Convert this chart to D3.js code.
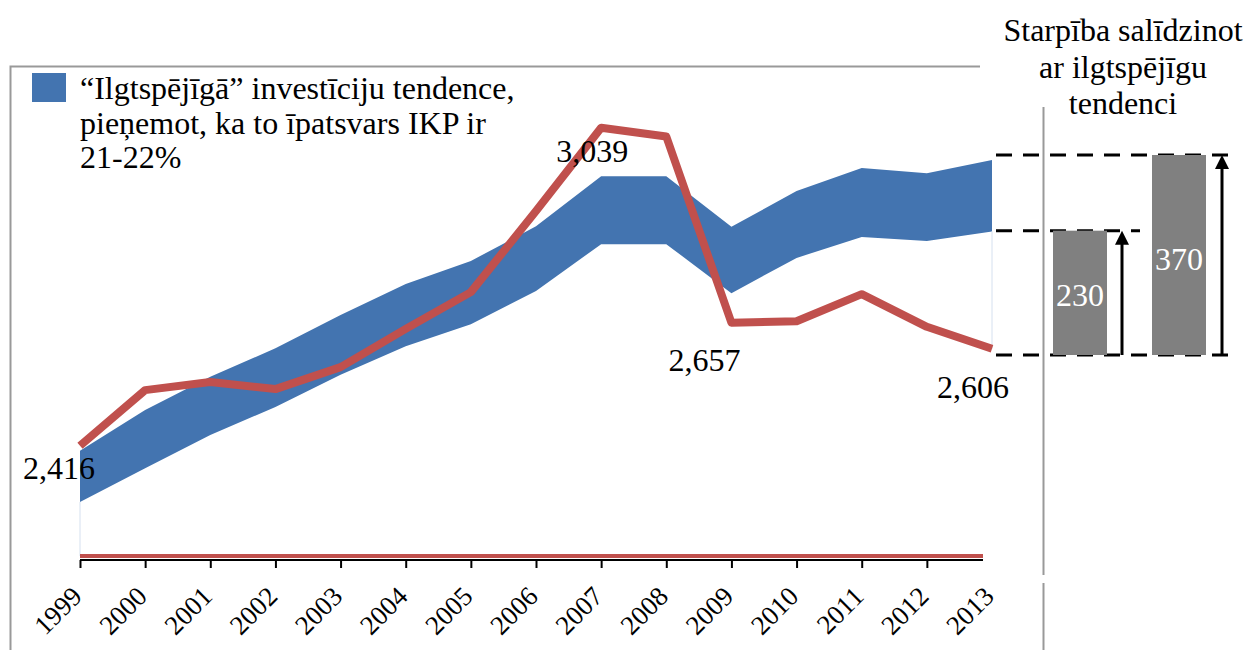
<!DOCTYPE html>
<html>
<head>
<meta charset="utf-8">
<script src="https://cdn.jsdelivr.net/npm/d3@7"></script>
<style>
  body { margin: 0; background: #fff; }
  svg text { font-family: "Liberation Serif", "Times New Roman", serif; }
</style>
</head>
<body>
<div id="chart"></div>
<script>
// chart data
var years = [1999, 2000, 2001, 2002, 2003, 2004, 2005, 2006, 2007, 2008, 2009, 2010, 2011, 2012, 2013];
var actual = [2416, 2525, 2541, 2527, 2570, 2645, 2717, 2876, 3039, 3022, 2657, 2660, 2713, 2649, 2606];
var trendLow = [2306, 2372, 2437, 2492, 2555, 2611, 2654, 2719, 2811, 2811, 2715, 2784, 2825, 2817, 2836];
var trendHigh = [2406, 2486, 2551, 2607, 2672, 2733, 2778, 2846, 2944, 2944, 2845, 2915, 2960, 2950, 2976];
var labelYears = [1999, 2007, 2009, 2013];
var gapValues = [230, 370];
var legendLines = ["\u201CIlgtspējīgā\u201D investīciju tendence,", "pieņemot, ka to īpatsvars IKP ir", "21-22%"];
var panelTitle = ["Starpība salīdzinot", "ar ilgtspējīgu", "tendenci"];

var w = 1246, h = 650;
var blue = "#4374b0", red = "#c0504d", grey = "#999";
var serif = "Liberation Serif, Times New Roman, serif";

var svg = d3.select("#chart").append("svg")
	.attr("width", w)
	.attr("height", h);

var xScale = d3.scaleLinear().domain([1999, 2013]).range([80, 992]);
var yScale = d3.scaleLinear().domain([2200, 3300]).range([556, 556 - 1100 * 0.5104]);
// right panel has its own scale for the gap bars
var gScale = d3.scaleLinear().domain([0, 370]).range([355, 155]);

// frame
svg.append("path")
	.attr("d", "M10.5,650 L10.5,66.5 L980,66.5")
	.attr("fill", "none").attr("stroke", grey).attr("stroke-width", 2);
svg.append("line").attr("x1", 1043.5).attr("x2", 1043.5).attr("y1", 107).attr("y2", 575)
	.attr("stroke", grey).attr("stroke-width", 2);
svg.append("line").attr("x1", 1043.5).attr("x2", 1043.5).attr("y1", 583).attr("y2", 650)
	.attr("stroke", grey).attr("stroke-width", 2);

// band
var band = years.map(function(y, i) { return [y, trendLow[i], trendHigh[i]]; });
var area = d3.area()
	.x(function(d) { return xScale(d[0]); })
	.y0(function(d) { return yScale(d[1]); })
	.y1(function(d) { return yScale(d[2]); });
svg.append("path").datum(band).attr("d", area).attr("fill", blue);

// faint edges of the hidden base area
svg.append("line")
	.attr("x1", xScale(1999)).attr("x2", xScale(1999))
	.attr("y1", yScale(trendLow[0])).attr("y2", yScale(2200))
	.attr("stroke", "#d5e0ef").attr("stroke-width", 1);
svg.append("line")
	.attr("x1", xScale(2013)).attr("x2", xScale(2013))
	.attr("y1", yScale(trendLow[14])).attr("y2", yScale(actual[14]))
	.attr("stroke", "#d5e0ef").attr("stroke-width", 1);

// axis
var xAxis = d3.axisBottom(xScale)
	.tickValues(years)
	.tickSize(8)
	.tickFormat(d3.format("d"));
var gx = svg.append("g")
	.attr("transform", "translate(0," + 560 + ")")
	.call(xAxis);
gx.select(".domain").remove();
gx.selectAll(".tick line").attr("stroke", "#000").attr("stroke-width", 2)
	.attr("opacity", function(d) { return d == 2013 ? 0 : 1; });
gx.selectAll(".tick text")
	.attr("font-size", "27px")
	.attr("font-family", serif)
	.attr("fill", "#000")
	.attr("text-anchor", "end")
	.attr("dy", null)
	.attr("y", 0)
	.attr("transform", "translate(3,38) rotate(-45)");
svg.append("line")
	.attr("x1", xScale(1999)).attr("x2", xScale(2013) - 9)
	.attr("y1", 560).attr("y2", 560)
	.attr("stroke", "#000").attr("stroke-width", 2);
svg.append("line")
	.attr("x1", xScale(1999)).attr("x2", xScale(2013) - 9)
	.attr("y1", yScale(2200)).attr("y2", yScale(2200))
	.attr("stroke", red).attr("stroke-width", 4);

// actual investment line
var line = d3.line()
	.x(function(d, i) { return xScale(years[i]); })
	.y(function(d) { return yScale(d); });
svg.append("path").datum(actual)
	.attr("d", line)
	.attr("fill", "none")
	.attr("stroke", red)
	.attr("stroke-width", 8)
	.attr("stroke-linejoin", "round");

// data labels
var labelOffset = { 1999: [-21, 33], 2007: [-9, 34], 2009: [-27, 48], 2013: [-19, 49] };
svg.selectAll(".dlabel")
	.data(labelYears)
	.enter()
	.append("text")
	.attr("class", "dlabel")
	.attr("x", function(d) { return xScale(d) + labelOffset[d][0]; })
	.attr("y", function(d) { return yScale(actual[years.indexOf(d)]) + labelOffset[d][1]; })
	.attr("text-anchor", "middle")
	.attr("font-size", "32px")
	.text(function(d) { return d3.format(",")(actual[years.indexOf(d)]); });

// legend
svg.append("rect").attr("x", 32).attr("y", 73).attr("width", 34).attr("height", 29).attr("fill", blue);
svg.selectAll(".leg")
	.data(legendLines)
	.enter()
	.append("text")
	.attr("class", "leg")
	.attr("x", 80)
	.attr("y", function(d, i) { return 99 + i * 34.5; })
	.attr("font-size", "32px")
	.text(function(d) { return d; });

// right panel title
svg.selectAll(".ptitle")
	.data(panelTitle)
	.enter()
	.append("text")
	.attr("class", "ptitle")
	.attr("x", 1123)
	.attr("y", function(d, i) { return 41 + i * 36.5; })
	.attr("text-anchor", "middle")
	.attr("font-size", "32px")
	.text(function(d) { return d; });

// dashed reference lines
var dashEnds = [1232, 1140, 1232];
[0, gapValues[0], gapValues[1]].forEach(function(v, i) {
	svg.append("line")
		.attr("x1", 996).attr("x2", dashEnds[i])
		.attr("y1", gScale(v)).attr("y2", gScale(v))
		.attr("stroke", "#000").attr("stroke-width", 3)
		.attr("stroke-dasharray", "16,11");
});

// gap bars and arrows
var barX = [1053, 1152], arrowX = [1122, 1222];
svg.selectAll(".gbar")
	.data(gapValues)
	.enter()
	.append("rect")
	.attr("class", "gbar")
	.attr("x", function(d, i) { return barX[i]; })
	.attr("y", function(d) { return gScale(d); })
	.attr("width", 54)
	.attr("height", function(d) { return gScale(0) - gScale(d); })
	.attr("fill", "#808080");
svg.selectAll(".glabel")
	.data(gapValues)
	.enter()
	.append("text")
	.attr("class", "glabel")
	.attr("x", function(d, i) { return barX[i] + 27; })
	.attr("y", function(d) { return gScale(d * 0.48) + 11; })
	.attr("text-anchor", "middle")
	.attr("font-size", "32px")
	.attr("fill", "#fff")
	.text(function(d) { return d; });
gapValues.forEach(function(v, i) {
	var ax = arrowX[i], top = gScale(v);
	svg.append("line")
		.attr("x1", ax).attr("x2", ax)
		.attr("y1", gScale(0)).attr("y2", top + 12)
		.attr("stroke", "#000").attr("stroke-width", 3);
	svg.append("path")
		.attr("d", "M" + ax + "," + top + " L" + (ax - 7) + "," + (top + 14) + " L" + (ax + 7) + "," + (top + 14) + " Z")
		.attr("fill", "#000");
});
</script>
</body>
</html>
